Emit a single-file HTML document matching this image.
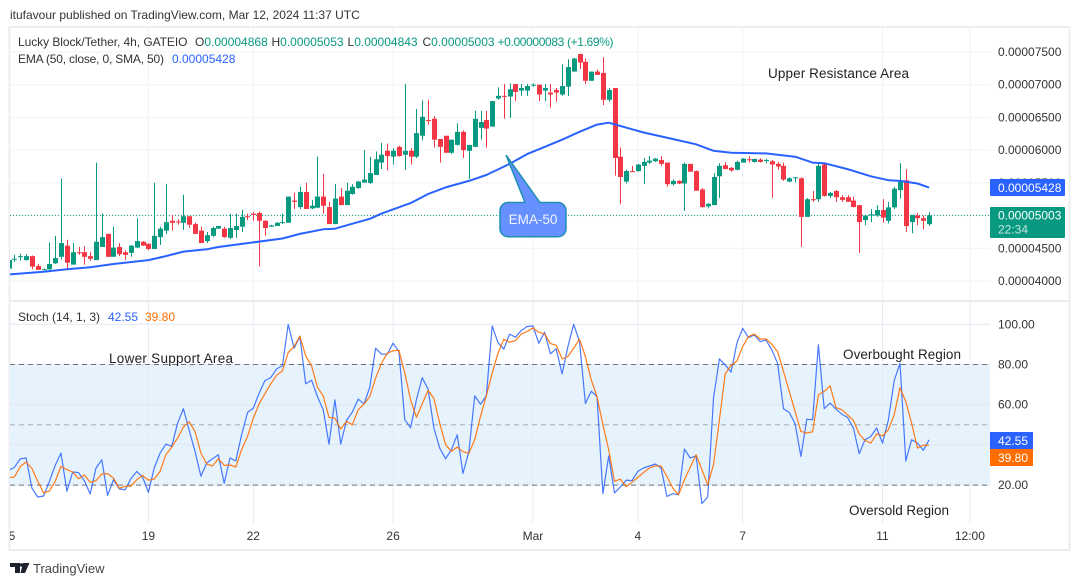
<!DOCTYPE html>
<html lang="en">
<head>
<meta charset="utf-8">
<title>Lucky Block/Tether 4h chart</title>
<style>
html,body{margin:0;padding:0;background:#fff;width:1080px;height:586px;overflow:hidden}
svg{display:block;font-family:"Liberation Sans",sans-serif}
text{font-size:12px;fill:#333}
</style>
</head>
<body>
<svg id="chart" width="1080" height="586" viewBox="0 0 1080 586" xmlns="http://www.w3.org/2000/svg">
  <defs>
    <clipPath id="price-clip"><rect x="10" y="28" width="980" height="272"/></clipPath>
    <clipPath id="stoch-clip"><rect x="10" y="302" width="980" height="221"/></clipPath>
    <clipPath id="time-clip"><rect x="10" y="523" width="1058" height="26"/></clipPath>
  </defs>
  <rect x="0" y="0" width="1080" height="586" fill="#ffffff"/>
  <text x="10" y="19">itufavour published on TradingView.com, Mar 12, 2024 11:37 UTC</text>
  <rect x="9.5" y="27" width="1060" height="523" fill="none" stroke="#eceef2" stroke-width="2"/>
  <line x1="10" x2="1069" y1="301" y2="301" stroke="#e4e6eb" stroke-width="1.5"/>

  <rect x="10" y="364.3" width="980" height="121" fill="#e6f3fd"/>
  <g id="grid"></g>
  <g id="price-axis"></g>
  <g id="stoch-axis"></g>
  <g id="time-axis" clip-path="url(#time-clip)"></g>

  <g clip-path="url(#price-clip)">
    <line id="last-price-line" x1="10" x2="990" stroke="#089981" stroke-width="1" stroke-dasharray="1 2"/>
    <g id="candles"></g>
    <path id="ema-line" fill="none" stroke="#2962ff" stroke-width="2" stroke-linejoin="round"/>
  </g>

  <g clip-path="url(#stoch-clip)">
    <g id="stoch-levels"></g>
    <path id="k-line" fill="none" stroke="#2962ff" stroke-opacity=".85" stroke-width="1.2" stroke-linejoin="round"/>
    <path id="d-line" fill="none" stroke="#ff6d00" stroke-opacity=".9" stroke-width="1.2" stroke-linejoin="round"/>
  </g>

  <g>
    <text x="18" y="46" textLength="169.5">Lucky Block/Tether, 4h, GATEIO</text>
    <text x="195" y="46">O<tspan style="fill:#089981">0.00004868</tspan></text>
    <text x="271.5" y="46">H<tspan style="fill:#089981">0.00005053</tspan></text>
    <text x="347.5" y="46">L<tspan style="fill:#089981">0.00004843</tspan></text>
    <text x="422.5" y="46">C<tspan style="fill:#089981">0.00005003</tspan></text>
    <text x="497.5" y="46" textLength="116" style="fill:#089981">+0.00000083 (+1.69%)</text>
    <text x="18" y="63" textLength="146">EMA (50, close, 0, SMA, 50)</text>
    <text x="172" y="63" style="fill:#2962ff">0.00005428</text>
  </g>
  <text x="18" y="321">Stoch (14, 1, 3)</text>
  <text x="108" y="321" style="fill:#2962ff">42.55</text>
  <text x="145" y="321" style="fill:#ff6d00">39.80</text>

  <text x="768" y="78" textLength="141" style="font-size:13.5px;fill:#222">Upper Resistance Area</text>
  <text x="109" y="363" textLength="124" style="font-size:13.5px;fill:#222">Lower Support Area</text>
  <text x="843" y="359" textLength="118" style="font-size:13.5px;fill:#222">Overbought Region</text>
  <text x="849" y="515" textLength="100" style="font-size:13.5px;fill:#222">Oversold Region</text>

  <g>
    <path d="M525 202.5 L506 155 L540 202.5 L558 202.5 A8 8 0 0 1 566 210.5 L566 228.7 A8 8 0 0 1 558 236.7 L508 236.7 A8 8 0 0 1 500 228.7 L500 210.5 A8 8 0 0 1 508 202.5 Z" fill="#6690ff" stroke="#1f8fb3" stroke-width="1.5"/>
    <text x="533" y="224" text-anchor="middle" style="font-size:13.5px;fill:#f2f5ff">EMA-50</text>
  </g>

  <g>
    <rect x="990" y="179" width="75" height="17" rx="1" fill="#2962ff"/>
    <text x="998" y="192" style="fill:#fff">0.00005428</text>
  </g>
  <g>
    <rect x="990" y="207" width="75" height="31" rx="1" fill="#089981"/>
    <text x="998" y="219.5" style="fill:#fff">0.00005003</text>
    <text x="998" y="233.5" style="fill:#c2e8df">22:34</text>
  </g>
  <g>
    <rect x="990" y="432" width="43" height="17" fill="#2962ff"/>
    <text x="998" y="445" style="fill:#fff">42.55</text>
  </g>
  <g>
    <rect x="990" y="449" width="43" height="17" fill="#ff6d00"/>
    <text x="998" y="462" style="fill:#fff">39.80</text>
  </g>

  <g>
    <path d="M10 563 H20 V573 H15 V567 H10 Z M23 563 H29.5 L25 573 H20.5 Z" fill="#1e222d"/>
    <circle cx="21.5" cy="565" r="1.7" fill="#1e222d"/>
    <text x="33" y="573" style="font-size:13px;fill:#444">TradingView</text>
  </g>
</svg>
<script>
// Candle prices, in units of 0.00001 USDT
const opens = [
4.19,4.33,4.37,4.32,4.38,4.23,4.17,4.18,4.27,4.37,
4.54,4.25,4.44,4.44,4.38,4.32,4.52,4.72,4.37,4.52,
4.44,4.43,4.51,4.60,4.57,4.49,4.67,4.77,4.92,4.91,
4.89,4.99,4.87,4.77,4.61,4.69,4.80,4.80,4.66,4.78,
4.83,4.99,5.03,5.04,4.92,4.83,4.84,4.89,4.89,5.23,
5.13,5.36,5.11,5.12,5.29,5.13,4.87,5.29,5.16,5.33,
5.42,5.505,5.50,5.62,5.81,5.99,5.90,6.05,5.93,5.99,
5.90,6.22,6.46,6.48,6.17,6.22,5.96,6.08,6.28,5.99,
6.05,6.34,6.46,6.36,6.79,6.83,6.82,7.01,6.91,6.91,
6.99,7.00,6.91,6.88,6.92,6.85,6.97,7.20,7.47,7.35,
7.06,7.20,7.18,6.77,6.95,5.90,5.52,5.68,5.68,5.76,
5.81,5.83,5.85,5.81,5.48,5.53,5.49,5.79,5.68,5.40,
5.14,5.16,5.60,5.77,5.73,5.70,5.81,5.86,5.82,5.855,
5.84,5.83,5.79,5.76,5.52,5.57,5.57,4.98,5.25,5.25,
5.78,5.30,5.375,5.28,5.28,5.23,5.16,4.93,5.00,5.00,
5.085,4.92,5.125,5.39,5.54,4.90,5.00,4.96,4.868];
const highs = [
4.33,4.40,4.42,4.41,4.39,4.26,4.19,4.59,4.69,5.56,
4.63,4.58,4.52,4.53,4.44,5.81,5.03,4.72,4.83,4.58,
4.47,4.55,4.96,4.61,4.57,5.50,4.83,5.48,5.01,4.95,
5.32,4.99,4.89,4.83,4.75,4.83,4.84,4.83,5.03,5.03,
5.09,5.03,5.05,5.06,4.93,4.86,4.90,5.03,5.29,5.35,
5.44,5.50,5.24,5.90,5.64,5.21,5.48,5.42,5.50,5.48,
5.53,6.00,5.90,5.98,6.11,6.10,6.03,6.07,7.01,6.03,
6.63,6.76,6.77,6.52,6.17,6.22,6.16,6.41,6.30,6.08,
6.60,6.60,6.60,6.75,6.96,7.01,7.02,7.01,7.01,7.01,
7.02,7.00,7.01,7.01,6.95,7.31,7.39,7.41,7.47,7.40,
7.20,7.23,7.42,6.95,6.95,6.04,5.70,5.76,5.79,5.88,
5.91,5.88,5.91,5.81,5.55,5.54,5.81,5.79,5.69,5.42,
5.19,5.65,5.80,5.82,5.74,5.84,5.88,5.91,5.87,5.875,
5.87,5.85,5.82,5.81,5.585,5.59,5.585,5.27,5.375,5.80,
5.81,5.36,5.39,5.31,5.31,5.29,5.16,5.01,5.10,5.16,
5.25,5.21,5.44,5.80,5.71,5.01,5.04,5.00,5.053];
const lows = [
4.18,4.29,4.31,4.31,4.18,4.17,4.17,4.14,4.26,4.33,
4.18,4.25,4.40,4.25,4.31,4.32,4.52,4.37,4.37,4.38,
4.32,4.37,4.51,4.54,4.47,4.49,4.55,4.72,4.77,4.86,
4.78,4.81,4.72,4.58,4.58,4.67,4.80,4.66,4.64,4.66,
4.75,4.93,4.92,4.22,4.69,4.83,4.84,4.87,4.89,5.10,
5.10,5.10,5.10,5.12,5.03,4.87,4.87,5.16,5.16,5.32,
5.41,5.50,5.48,5.62,5.71,5.69,5.78,5.90,5.70,5.78,
5.88,6.15,6.39,6.04,5.81,5.96,5.94,6.07,5.88,5.56,
6.05,6.16,6.04,6.36,6.77,6.48,6.49,6.75,6.83,6.83,
6.97,6.75,6.75,6.65,6.74,6.83,6.83,7.20,7.24,7.01,
7.06,7.15,6.69,6.74,5.61,5.18,5.49,5.67,5.67,5.48,
5.79,5.82,5.76,5.44,5.46,5.48,5.07,5.67,5.38,5.12,
5.11,5.16,5.27,5.71,5.67,5.69,5.81,5.81,5.81,5.81,
5.80,5.27,5.70,5.53,5.51,5.51,4.52,4.98,5.21,5.21,
5.29,5.27,5.21,5.21,5.21,5.125,4.43,4.855,4.90,4.98,
4.89,4.88,5.10,5.26,4.75,4.73,4.855,4.79,4.843];
const closes = [
4.32,4.34,4.38,4.38,4.22,4.17,4.18,4.26,4.35,4.58,
4.28,4.44,4.43,4.37,4.34,4.60,4.67,4.37,4.51,4.41,
4.40,4.54,4.61,4.54,4.49,4.69,4.80,4.90,4.89,4.90,
4.99,4.86,4.72,4.58,4.70,4.81,4.84,4.67,4.81,4.84,
4.98,4.98,5.01,4.92,4.81,4.85,4.89,4.90,5.29,5.21,
5.36,5.10,5.15,5.29,5.15,4.87,5.26,5.16,5.38,5.44,
5.52,5.55,5.65,5.86,5.93,5.91,5.99,5.91,5.99,5.90,
6.26,6.51,6.45,6.16,6.05,5.96,6.16,6.28,6.00,6.08,
6.48,6.43,6.33,6.75,6.83,6.82,6.93,6.89,6.95,6.98,
7.00,6.85,6.95,6.85,6.88,6.98,7.27,7.40,7.34,7.06,
7.20,7.15,6.77,6.92,5.88,5.59,5.68,5.67,5.78,5.82,
5.84,5.87,5.79,5.48,5.53,5.49,5.79,5.67,5.38,5.13,
5.18,5.59,5.76,5.71,5.69,5.82,5.87,5.85,5.865,5.82,
5.85,5.78,5.75,5.55,5.57,5.585,4.98,5.25,5.24,5.76,
5.30,5.345,5.28,5.24,5.21,5.13,4.90,5.00,5.02,5.085,
4.97,5.125,5.41,5.54,4.84,5.01,4.96,4.92,5.003];

// EMA-50 readings at selected candle numbers
const emaCandles = [0,6,10,14,18,24,27,30,34,36,42,47,50,54,56,60,62,64,69,72,75,79,82,86,89,92,95,98,101,103,109,114,118,121,124,130,132,135,138,140,144,148,151,153,156,158];
const emaValues = [4.10,4.14,4.18,4.21,4.26,4.32,4.38,4.45,4.485,4.52,4.59,4.65,4.72,4.79,4.80,4.90,4.95,5.03,5.19,5.33,5.43,5.53,5.62,5.79,5.94,6.05,6.16,6.28,6.39,6.42,6.27,6.17,6.09,5.99,5.96,5.95,5.93,5.90,5.81,5.80,5.71,5.60,5.54,5.53,5.49,5.428];

// Stochastic %K and %D per candle
const stochK = [
27.3,28.8,33.1,33.5,18.5,14.1,14.6,21.9,29.8,35.9,
16.9,26.5,26.2,22.2,15.6,28.5,32.6,14.9,22.7,18.1,
17.6,23.2,26.8,24.0,16.4,28.5,35.9,40.4,39.2,50.8,
58.0,47.2,36.8,24.5,31.0,33.1,35.1,20.9,33.5,32.1,
45.0,56.1,58.3,65.7,72.0,73.5,77.8,79.3,100,88.1,
93.9,70.4,72.2,64.1,57.5,40.4,62.4,40.4,52.2,56.3,
62.8,60.4,68.7,88.1,85.1,85.1,90.6,86.4,52.5,48.5,
62.4,73.5,67.7,48.4,38.4,33.1,37.6,45.0,25.8,36.8,
64.4,60.3,64.4,99.2,90.9,87.6,95.1,93.6,96.9,98.9,
99.2,90.6,96.0,85.3,87.8,75.3,88.9,100,91.4,60.6,
66.7,64.1,15.7,34.6,16.1,19.0,22.5,22.2,26.8,28.5,
29.5,30.5,28.5,14.4,15.7,15.2,37.9,33.5,34.6,10.8,
14.1,63.3,82.8,79.8,76.2,90.6,98.0,93.4,94.7,91.4,
92.2,87.3,80.6,58.0,56.1,50.5,34.3,52.8,52.5,89.8,
58.0,60.8,57.8,55.3,53.7,48.4,35.6,42.6,44.2,48.4,
40.9,52.2,72.0,80.6,32.0,42.6,40.9,37.3,42.55];
const stochD = [
23.8,24.0,29.3,31.5,28.3,21.9,16.1,17.1,21.9,29.3,
27.7,26.5,23.2,25.0,21.4,22.2,25.5,25.7,23.5,18.4,
19.4,19.5,22.7,24.8,22.5,23.0,26.8,35.1,38.8,43.4,
48.9,51.5,46.7,35.9,30.5,29.5,33.1,29.8,30.0,29.0,
37.6,44.2,53.3,60.4,65.4,70.4,74.7,76.8,85.9,88.9,
94.2,84.3,79.3,68.7,64.4,53.7,53.3,47.9,51.7,50.0,
57.5,60.3,64.1,73.2,80.6,85.6,86.8,87.1,75.7,62.4,
53.8,60.4,67.1,63.1,50.8,40.1,36.8,38.9,36.6,35.8,
42.6,54.2,64.4,75.7,85.6,92.6,91.1,91.9,95.1,96.4,
98.2,96.0,95.2,90.4,89.6,82.8,84.0,88.1,92.6,84.0,
72.4,64.1,50.0,37.6,21.9,23.0,19.2,21.4,23.8,26.3,
28.5,29.6,29.5,24.3,18.5,15.2,22.7,28.8,35.1,27.7,
20.2,30.1,52.5,75.3,79.5,81.8,88.9,93.9,95.1,92.7,
92.7,90.1,86.4,76.5,66.6,56.6,46.7,45.9,46.5,64.9,
66.6,69.4,58.6,57.5,55.0,52.2,45.4,42.2,40.9,45.4,
44.5,47.5,55.0,68.4,61.6,50.8,38.4,39.9,39.80];

// Axis ticks
const priceTicks = [7.5,7.0,6.5,6.0,5.5,5.0,4.5,4.0];
const stochTicks = [100,80,60,40,20];
const stochTickLabels = ["100.00","80.00","60.00","","20.00"];
const stochLevels = [80,50,20];
const timeTickCandles = [0,24,42,66,90,108,126,150,165];
const timeTickLabels = ["15","19","22","26","Mar","4","7","11","12:00"];

// Axis functions
function xAt(i){ return 8.6 + 5.826 * i; }
function priceY(p){ return 281 - (p - 4.0) * 65.43; }
function stochY(v){ return 324.3 + (100 - v) * 2.01; }

const NS = 'http://www.w3.org/2000/svg';
function make(tag, attrs, parent){
  const el = document.createElementNS(NS, tag);
  for (const k in attrs) el.setAttribute(k, attrs[k]);
  parent.appendChild(el);
  return el;
}

const grid = document.getElementById('grid');
const priceAxis = document.getElementById('price-axis');
const stochAxis = document.getElementById('stoch-axis');
const timeAxis = document.getElementById('time-axis');
const gridColor = '#f0f2f6';

priceTicks.forEach(function(p){
  const y = priceY(p);
  const line = make('line', {x1:10, x2:990, y1:y, y2:y, stroke:gridColor, 'stroke-width':1}, grid);
  
  
  const label = make('text', {x:998, y:y + 4}, priceAxis);
  
  
  label.textContent = (p / 100000).toFixed(8);
});

stochTicks.forEach(function(v, idx){
  const y = stochY(v);
  const line = make('line', {x1:10, x2:990, y1:y, y2:y, stroke:'#dfe8f2', 'stroke-width':1}, grid);
  
  
  if (stochTickLabels[idx]) {
    const label = make('text', {x:998, y:y + 4}, stochAxis);
    
    
    label.textContent = stochTickLabels[idx];
  }
});

timeTickCandles.forEach(function(c, idx){
  const x = xAt(c);
  if (c > 0) {
    const a = make('line', {x1:x, x2:x, y1:28, y2:300, stroke:gridColor, 'stroke-width':1}, grid);
    
    
    const b = make('line', {x1:x, x2:x, y1:302, y2:523, stroke:'#e6ebf2', 'stroke-width':1}, grid);
    
    
  }
  const label = make('text', {x:x, y:540, 'text-anchor':'middle'}, timeAxis);
  
  
  label.textContent = timeTickLabels[idx];
});

const lastLine = document.getElementById('last-price-line');
const lastY = priceY(closes[closes.length - 1]);
lastLine.setAttribute('y1', lastY);
lastLine.setAttribute('y2', lastY);

const candleGroup = document.getElementById('candles');
opens.forEach(function(o, i){
  const c = closes[i];
  const up = c >= o;
  const col = up ? '#089981' : '#f23645';
  const cx = Math.round(xAt(i));
  const g = make('g', {fill:col}, candleGroup);
  
  
  const yH = priceY(highs[i]);
  const yL = priceY(lows[i]);
  const top = priceY(Math.max(o, c));
  const bot = priceY(Math.min(o, c));
  const wick = make('rect', {x:cx, y:yH, width:1, height:Math.max(1, yL - yH)}, g);
  
  
  const body = make('rect', {x:cx - 2, y:top, width:5, height:Math.max(1, bot - top)}, g);
  
  
});

document.getElementById('ema-line').setAttribute('d',
  emaValues.map(function(v, i){ return (i ? 'L' : 'M') + xAt(emaCandles[i]).toFixed(1) + ' ' + priceY(v).toFixed(1); }).join(' '));

document.getElementById('k-line').setAttribute('d',
  stochK.map(function(v, i){ return (i ? 'L' : 'M') + xAt(i).toFixed(1) + ' ' + stochY(v).toFixed(1); }).join(' '));
document.getElementById('d-line').setAttribute('d',
  stochD.map(function(v, i){ return (i ? 'L' : 'M') + xAt(i).toFixed(1) + ' ' + stochY(v).toFixed(1); }).join(' '));

const levelGroup = document.getElementById('stoch-levels');
stochLevels.forEach(function(v){
  const y = stochY(v);
  const line = make('line', {x1:10, x2:990, y1:y, y2:y, stroke: v === 50 ? '#a8abb3' : '#6f727c', 'stroke-width':1, 'stroke-dasharray':'5 4'}, levelGroup);
  
  
});
</script>
</body>
</html>
